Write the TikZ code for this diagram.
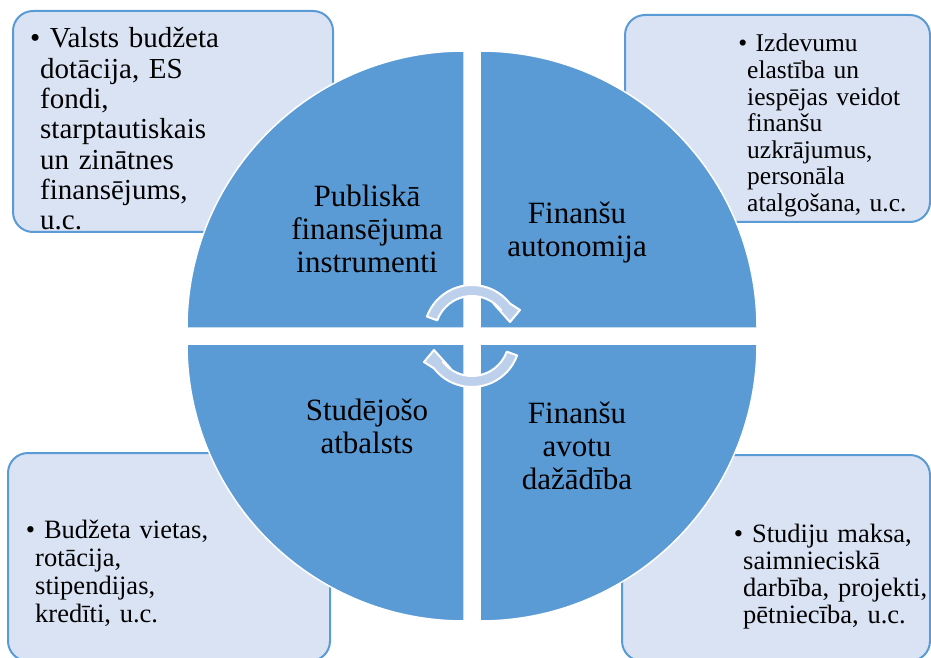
\documentclass[tikz,border=0pt]{standalone}
\usepackage{fontspec}
\setmainfont{Liberation Serif}
\definecolor{kvadrants}{HTML}{5B9BD5}
\definecolor{lodzins}{HTML}{DAE3F3}
\definecolor{bulta}{HTML}{BDD0EB}
\begin{document}
\begin{tikzpicture}[x=1pt,y=1pt,
    quarter/.style={fill=kvadrants,draw=white,line width=1.5pt},
    infobox/.style={fill=lodzins,draw=kvadrants,line width=2pt,rounded corners=20pt},
    infotext/.style={text width=190pt,align=left,inner sep=0pt,anchor=base west},
    centertext/.style={text width=220pt,align=center,inner sep=0pt,anchor=base,font=\fontsize{31}{33}\selectfont},
    cyc/.style={fill=bulta,draw=white,line width=2pt,line join=round}]
  \useasboundingbox(0,0)rectangle(931,657);
  \draw[infobox](13,425)rectangle(333,646);%augsa pa kreisi
  \draw[infobox](625,435)rectangle(930,642);%augsa pa labi
  \draw[infobox](8,-4)rectangle(330,204);%apaksa pa kreisi
  \draw[infobox](622,-4)rectangle(930,202);%apaksa pa labi
  \coordinate(c)at(472,321);%centrs
  \foreach \a/\dx/\dy in {0/8/8,90/-8/8,180/-8/-8,270/8/-8}
    \draw[quarter]([shift={(\dx,\dy)}]c)--++(\a:277)arc[start angle=\a,delta angle=90,radius=277]--cycle;
  \node[infotext,font=\fontsize{29}{30.3}\selectfont](valsts)at(40,609){\llap{•}~Valsts budžeta\\dotācija, ES\\fondi,\\starptautiskais\\un zinātnes\\finansējums,\\u.c.};
  \node[infotext,font=\fontsize{25.5}{26.6}\selectfont](izdevumi)at(747,605){\llap{•}~Izdevumu\\elastība un\\iespējas veidot\\finanšu\\uzkrājumus,\\personāla\\atalgošana, u.c.};
  \node[infotext,font=\fontsize{26.5}{28}\selectfont](vietas)at(35,119){\llap{•}~Budžeta vietas,\\rotācija,\\stipendijas,\\kredīti, u.c.};
  \node[infotext,font=\fontsize{26.5}{27}\selectfont](maksa)at(743,115){\llap{•}~Studiju maksa,\\saimnieciskā\\darbība, projekti,\\pētniecība, u.c.};
  \node[centertext](publ)at(367,450){Publiskā\\finansējuma\\instrumenti};
  \node[centertext](auton)at(577,433){Finanšu\\autonomija};
  \node[centertext](stud)at(367,237){Studējošo\\atbalsts};
  \node[centertext](avoti)at(577,234){Finanšu\\avotu\\dažādība};
  \foreach \sx/\sy/\r in {472/324/0,472/318/180}{%bultas
    \begin{scope}[shift={(\sx,\sy)},rotate=\r]
      \draw[cyc](160:48)arc[start angle=160,end angle=38,radius=48]--(48,23)--(38,11)--(21,30)--(38:37)arc[start angle=38,end angle=160,radius=37]--cycle;
    \end{scope}}
\end{tikzpicture}
\end{document}
